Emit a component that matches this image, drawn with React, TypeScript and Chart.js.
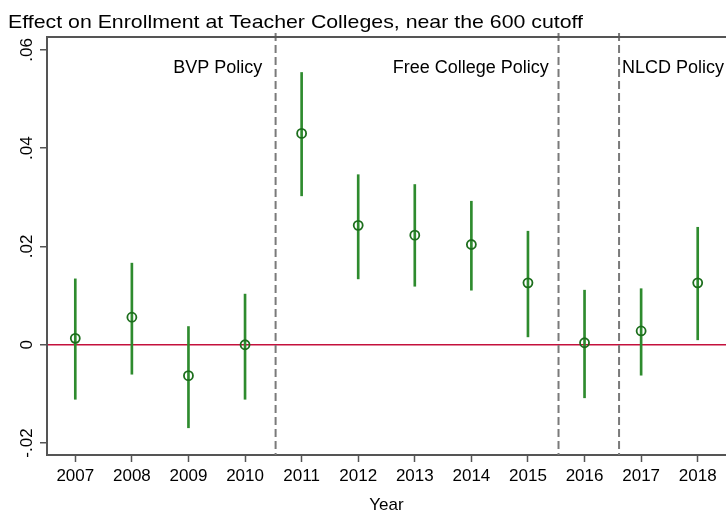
import React, { useEffect, useRef } from 'react';
import { Chart, registerables } from 'chart.js';

Chart.register(...registerables);

// ---- data ----
const years = [2007, 2008, 2009, 2010, 2011, 2012, 2013, 2014, 2015, 2016, 2017, 2018];
const estimates = [0.0013, 0.0056, -0.0063, 0.0, 0.043, 0.0243, 0.0223, 0.0204, 0.0126, 0.0004, 0.0028, 0.0126];
const upperCI = [0.0134, 0.0166, 0.0037, 0.0103, 0.0554, 0.0346, 0.0326, 0.0292, 0.0231, 0.0111, 0.0114, 0.0239];
const lowerCI = [-0.0111, -0.006, -0.0169, -0.0111, 0.0303, 0.0134, 0.0119, 0.0111, 0.0016, -0.0108, -0.0062, 0.001];
const yTickValues = [-0.02, 0, 0.02, 0.04, 0.06];
const yTickLabels = ['-.02', '0', '.02', '.04', '.06'];
const policyBreaks = [2010.54, 2015.54, 2016.61];
const policyNames = ['BVP Policy', 'Free College Policy', 'NLCD Policy'];
const policyLabelX = [2008.73, 2012.61, 2016.66];
const policyLabelY = 0.0552;
const titleText = 'Effect on Enrollment at Teacher Colleges, near the 600 cutoff';
const xTitle = 'Year';

const FONT = '"Liberation Sans", Arial, Helvetica, sans-serif';
const FRAME = '#555555';
const BAR_GREEN = '#2e8b2e';
const DOT_GREEN = '#1c6e1c';
const ZERO_RED = '#c4103c';

const decorPlugin = {
  id: 'decor',
  beforeDatasetsDraw(chart: any) {
    const { ctx, chartArea, scales } = chart;
    ctx.save();
    ctx.strokeStyle = '#7a7a7a';
    ctx.lineWidth = 2;
    ctx.setLineDash([8, 4]);
    policyBreaks.forEach((b) => {
      const px = scales.x.getPixelForValue(b);
      ctx.beginPath();
      ctx.moveTo(px, chartArea.top - 4);
      ctx.lineTo(px, chartArea.bottom);
      ctx.stroke();
    });
    ctx.restore();
  },
  afterDraw(chart: any) {
    const { ctx, chartArea, scales } = chart;
    ctx.save();
    // top frame
    ctx.strokeStyle = FRAME;
    ctx.lineWidth = 2;
    ctx.beginPath();
    ctx.moveTo(chartArea.left - 1, chartArea.top);
    ctx.lineTo(chartArea.right, chartArea.top);
    ctx.stroke();
    // title (stretched to the reference's width)
    ctx.fillStyle = '#000';
    ctx.font = `19px ${FONT}`;
    ctx.textAlign = 'left';
    ctx.textBaseline = 'alphabetic';
    const w = ctx.measureText(titleText).width;
    const sx = 575 / w;
    ctx.save();
    ctx.translate(8, 28);
    ctx.scale(sx, 1);
    ctx.fillText(titleText, 0, 0);
    ctx.restore();
    // policy labels
    ctx.font = `18px ${FONT}`;
    policyNames.forEach((name, i) => {
      const px = scales.x.getPixelForValue(policyLabelX[i]);
      const py = scales.y.getPixelForValue(policyLabelY);
      ctx.fillText(name, px, py);
    });
    // rotated y tick labels
    ctx.font = `17px ${FONT}`;
    ctx.textAlign = 'center';
    yTickValues.forEach((v, i) => {
      const py = scales.y.getPixelForValue(v);
      ctx.save();
      ctx.translate(32, py);
      ctx.rotate(-Math.PI / 2);
      ctx.fillText(yTickLabels[i], 0, 0);
      ctx.restore();
    });
    ctx.restore();
  },
};

export default function App() {
  const ref = useRef<HTMLCanvasElement>(null);
  useEffect(() => {
    if (!ref.current) return;
    const chart = new Chart(ref.current, {
      type: 'bar',
      data: {
        datasets: [
          {
            type: 'scatter',
            data: years.map((x, i) => ({ x, y: estimates[i] })),
            pointStyle: 'circle',
            pointRadius: 4.5,
            pointBorderWidth: 1.8,
            borderColor: DOT_GREEN,
            backgroundColor: 'rgba(0,0,0,0)',
            clip: false,
            order: 1,
          } as any,
          {
            type: 'bar',
            data: years.map((x, i) => ({ x, y: [lowerCI[i], upperCI[i]] })),
            backgroundColor: BAR_GREEN,
            borderWidth: 0,
            barThickness: 2,
            grouped: false,
            order: 2,
          } as any,
        ],
      },
      options: {
        animation: false,
        responsive: false,
        devicePixelRatio: 1,
        layout: { autoPadding: false, padding: { top: 37, left: 0, right: 0, bottom: 0 } },
        plugins: { legend: { display: false }, tooltip: { enabled: false }, title: { display: false } },
        scales: {
          x: {
            type: 'linear',
            min: 2006.5,
            max: 2018.5,
            offset: false,
            afterBuildTicks: (scale: any) => {
              scale.ticks = years.map((v) => ({ value: v }));
            },
            afterFit: (scale: any) => {
              scale.height = 58;
              scale.paddingLeft = 0;
              scale.paddingRight = 0;
            },
            ticks: {
              autoSkip: false,
              maxRotation: 0,
              minRotation: 0,
              padding: 4,
              color: '#000',
              font: { family: FONT, size: 17 },
              callback: (v: any) => String(v),
            },
            grid: {
              offset: false,
              drawOnChartArea: false,
              drawTicks: true,
              tickLength: 7,
              tickColor: FRAME,
              tickWidth: 1.5,
            },
            border: { display: true, color: FRAME, width: 2 },
            title: {
              display: true,
              text: xTitle,
              color: '#000',
              font: { family: FONT, size: 17, lineHeight: 1 },
              padding: { top: 0, bottom: -1 },
            },
          },
          y: {
            type: 'linear',
            min: -0.02244,
            max: 0.06262,
            afterBuildTicks: (scale: any) => {
              scale.ticks = yTickValues.map((v) => ({ value: v }));
            },
            afterFit: (scale: any) => {
              scale.width = 47;
              scale.paddingTop = 0;
              scale.paddingBottom = 0;
            },
            ticks: { display: false },
            grid: {
              drawOnChartArea: true,
              drawTicks: true,
              tickLength: 7,
              tickColor: FRAME,
              tickWidth: 1.5,
              color: (c: any) => (c.tick && c.tick.value === 0 ? ZERO_RED : 'rgba(0,0,0,0)'),
              lineWidth: 1.5,
            },
            border: { display: true, color: FRAME, width: 2 },
          },
        },
      } as any,
      plugins: [decorPlugin],
    });
    return () => chart.destroy();
  }, []);
  return (
    <div style={{ position: 'fixed', left: 0, top: 0, width: 726, height: 513, background: '#fff' }}>
      <canvas ref={ref} width={726} height={513} style={{ display: 'block', width: 726, height: 513 }} />
    </div>
  );
}
